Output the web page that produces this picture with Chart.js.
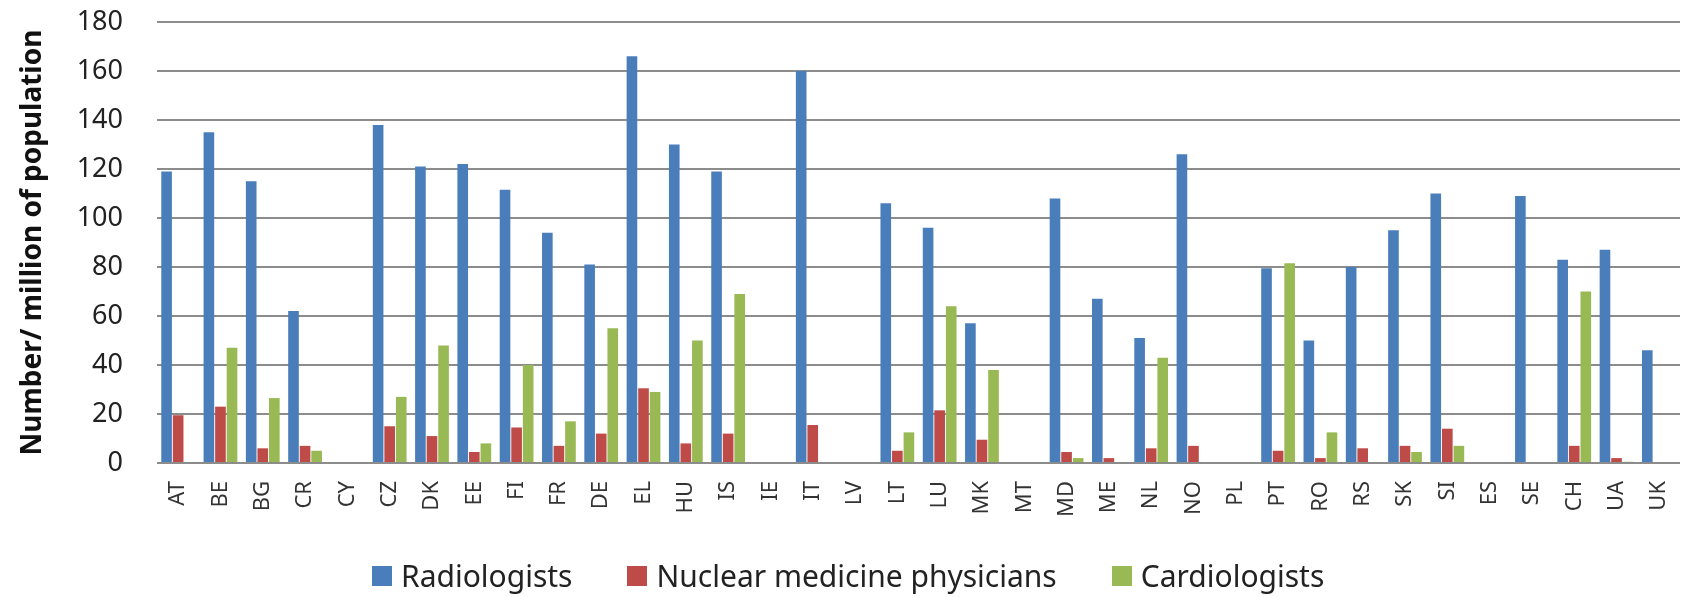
<!DOCTYPE html>
<html lang="en">
<head>
    <meta charset="UTF-8">
    <title>Radiologists, nuclear medicine physicians and cardiologists per million</title>
    <script src="https://cdn.jsdelivr.net/npm/chart.js"></script>
    <style>
        html, body { margin: 0; padding: 0; background: #fff; }
        .chart-container { position: relative; width: 1688px; height: 597px; }
        .legend {
            position: absolute;
            left: 372px;
            top: 556px;
            display: flex;
            align-items: center;
            font-family: "Noto Sans", "Open Sans", sans-serif;
            font-size: 30px;
            line-height: 40px;
            color: #222;
        }
        .legend-item { display: flex; align-items: center; margin-right: 55px; }
        .legend-item:last-child { margin-right: 0; }
        .legend-box { width: 20px; height: 20px; margin-right: 9px; }
    </style>
</head>
<body>
    <div class="chart-container">
        <canvas id="staffChart"></canvas>
        <div class="legend" id="legend"></div>
    </div>

    <script>
        // Countries
        const countries = ['AT', 'BE', 'BG', 'CR', 'CY', 'CZ', 'DK', 'EE', 'FI', 'FR', 'DE', 'EL',
            'HU', 'IS', 'IE', 'IT', 'LV', 'LT', 'LU', 'MK', 'MT', 'MD', 'ME', 'NL', 'NO', 'PL',
            'PT', 'RO', 'RS', 'SK', 'SI', 'ES', 'SE', 'CH', 'UA', 'UK'];

        // Number per million of population (null = no data)
        const radiologists = [119, 135, 115, 62, null, 138, 121, 122, 111.5, 94, 81, 166,
            130, 119, null, 160, null, 106, 96, 57, null, 108, 67, 51, 126, null,
            79.5, 50, 80, 95, 110, null, 109, 83, 87, 46];
        const nuclearMedicine = [19.5, 23, 6, 7, null, 15, 11, 4.5, 14.5, 7, 12, 30.5,
            8, 12, null, 15.5, null, 5, 21.5, 9.5, null, 4.5, 2, 6, 7, null,
            5, 2, 6, 7, 14, null, null, 7, 2, null];
        const cardiologists = [null, 47, 26.5, 5, null, 27, 48, 8, 40, 17, 55, 29,
            50, 69, null, null, null, 12.5, 64, 38, null, 2, null, 43, null, null,
            81.5, 12.5, null, 4.5, 7, null, null, 70, 0.5, null];

        const yTicks = [0, 20, 40, 60, 80, 100, 120, 140, 160, 180];

        const font = '"Noto Sans", "Open Sans", sans-serif';

        const chart = new Chart(document.getElementById('staffChart'), {
            type: 'bar',
            data: {
                labels: countries,
                datasets: [
                    { label: 'Radiologists', data: radiologists, backgroundColor: '#4a7ebb' },
                    { label: 'Nuclear medicine physicians', data: nuclearMedicine, backgroundColor: '#be4b48' },
                    { label: 'Cardiologists', data: cardiologists, backgroundColor: '#98b954' }
                ]
            },
            options: {
                responsive: true,
                maintainAspectRatio: false,
                animation: false,
                categoryPercentage: 0.82,
                barPercentage: 0.92,
                layout: {
                    padding: { top: 22, right: 8, left: 0, bottom: 0 }
                },
                plugins: {
                    tooltip: { enabled: false },
                    legend: { display: false }
                },
                scales: {
                    x: {
                        grid: { display: false, drawTicks: false },
                        border: { display: false },
                        ticks: {
                            maxRotation: 90,
                            minRotation: 90,
                            autoSkip: false,
                            padding: 18,
                            color: '#333',
                            font: { family: font, size: 22 }
                        },
                        afterFit: scale => {
                            scale.height = 134;
                            scale.paddingLeft = 0;
                            scale.paddingRight = 0;
                        }
                    },
                    y: {
                        min: 0,
                        max: 180,
                        afterBuildTicks: scale => {
                            scale.ticks = yTicks.map(v => ({ value: v }));
                        },
                        grid: { color: '#8c8c8c', lineWidth: 2, drawTicks: false },
                        border: { display: false },
                        ticks: {
                            padding: 34,
                            color: '#222',
                            font: { family: font, size: 27 }
                        },
                        title: {
                            display: true,
                            text: 'Number/ million of population',
                            color: '#111',
                            font: { family: font, size: 28, weight: 'bold' },
                            padding: { top: 16, bottom: 0 }
                        },
                        afterFit: scale => {
                            scale.width = 157;
                            scale.paddingTop = 0;
                            scale.paddingBottom = 0;
                        }
                    }
                }
            }
        });

        // Legend built from the chart's datasets
        const legend = document.getElementById('legend');
        chart.data.datasets.forEach(ds => {
            const item = document.createElement('div');
            item.className = 'legend-item';
            const box = document.createElement('span');
            box.className = 'legend-box';
            box.style.background = ds.backgroundColor;
            const text = document.createElement('span');
            text.textContent = ds.label;
            item.appendChild(box);
            item.appendChild(text);
            legend.appendChild(item);
        });
    </script>
</body>
</html>
